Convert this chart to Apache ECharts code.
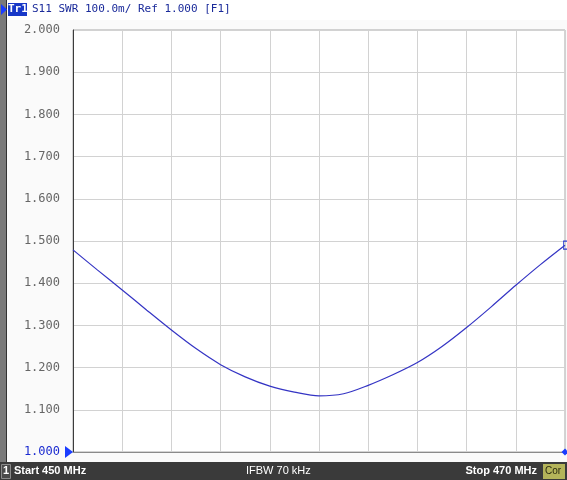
<!DOCTYPE html>
<html><head><meta charset="utf-8">
<script src="https://cdn.jsdelivr.net/npm/echarts@6/dist/echarts.min.js"></script>
<style>html,body{margin:0;padding:0;background:#fafafa}#c{width:567px;height:480px}</style>
</head><body><div id="c"></div>
<script>
const freqMHz = [450,451,452,453,454,455,456,457,458,459,460,461,462,463,464,465,466,467,468,469,470];
const swr = [1.479,1.431,1.384,1.336,1.289,1.245,1.207,1.178,1.156,1.142,1.133,1.138,1.158,1.183,1.212,1.250,1.295,1.344,1.395,1.444,1.490];
const yTicks = [1.0,1.1,1.2,1.3,1.4,1.5,1.6,1.7,1.8,1.9,2.0];
const headerText = 'S11 SWR 100.0m/ Ref 1.000 [F1]';
const startLabel = 'Start 450 MHz';
const midLabel = 'IFBW 70 kHz';
const stopLabel = 'Stop 470 MHz';

const chart = echarts.init(document.getElementById('c'));
const mono = 'DejaVu Sans Mono';
chart.setOption({
  animation: false,
  backgroundColor: '#fafafa',
  grid: {left: 73, right: 2, top: 30, bottom: 28, show: true, backgroundColor: '#ffffff', borderColor: '#a8a8a8', borderWidth: 1},
  xAxis: {type: 'value', min: 450, max: 470, interval: 2,
    axisLine: {show: true, onZero: false, lineStyle: {color: '#8a8a8a'}},
    axisTick: {show: false}, axisLabel: {show: false},
    splitLine: {show: true, lineStyle: {color: '#d2d2d2', width: 1}}},
  yAxis: {type: 'value', min: 1.0, max: 2.0, interval: 0.1,
    axisLine: {show: true, lineStyle: {color: '#3c3c3c', width: 1}},
    axisTick: {show: false},
    axisLabel: {margin: 13, fontFamily: mono, fontSize: 12,
      color: v => Math.abs(v - 1.0) < 1e-6 ? '#1a2ad0' : '#666666',
      formatter: v => yTicks.find(t => Math.abs(t - v) < 1e-6) !== undefined ? v.toFixed(3) : ''},
    splitLine: {show: true, lineStyle: {color: '#d2d2d2', width: 1}}},
  series: [{
    type: 'line', data: freqMHz.map((f, i) => [f, swr[i]]), smooth: 0.3, showSymbol: false,
    lineStyle: {color: '#3434c4', width: 1.2}, clip: false,
    markPoint: {silent: true, label: {show: false}, data: [
      {coord: [450, 1.0], symbol: 'triangle', symbolRotate: -90, symbolSize: [12, 8], symbolOffset: [-4, 0], itemStyle: {color: '#1a3cff'}},
      {coord: [470, 1.0], symbol: 'diamond', symbolSize: 7, itemStyle: {color: '#1a3cff'}},
      {coord: [470, swr[swr.length - 1]], symbol: 'rect', symbolSize: [5, 8], symbolOffset: [1, 0], itemStyle: {color: 'rgba(0,0,0,0)', borderColor: '#2a3ad0', borderWidth: 1}}
    ]}
  }],
  graphic: [
    {type: 'rect', left: 0, top: 0, shape: {width: 7, height: 462}, style: {fill: '#7a7a7a'}},
    {type: 'rect', left: 6, top: 0, shape: {width: 1, height: 462}, style: {fill: '#333'}},
    {type: 'rect', left: 7, top: 0, shape: {width: 560, height: 20}, style: {fill: '#ffffff'}},
    {type: 'polygon', shape: {points: [[1, 4], [7, 9.5], [1, 15]]}, style: {fill: '#1a3cff'}},
    {type: 'rect', left: 8, top: 3, shape: {width: 19, height: 13}, style: {fill: '#1838c8'}},
    {type: 'text', left: 8, top: 4, style: {text: 'Tr1', fill: '#ffffff', font: 'bold 11px ' + mono}},
    {type: 'text', left: 32, top: 4, style: {text: headerText, fill: '#1a2a9a', font: '11px ' + mono}},
    {type: 'rect', left: 0, top: 462, shape: {width: 567, height: 18}, style: {fill: '#3a3a3a'}},
    {type: 'rect', left: 1, top: 464, shape: {width: 9, height: 14}, style: {fill: '#4a4a4a', stroke: '#8a8a8a', lineWidth: 1}},
    {type: 'text', left: 3, top: 465, style: {text: '1', fill: '#ffffff', font: 'bold 11px "Liberation Sans", Arial'}},
    {type: 'text', left: 14, top: 465, style: {text: startLabel, fill: '#ffffff', font: 'bold 11px "Liberation Sans", Arial'}},
    {type: 'text', left: 246, top: 465, style: {text: midLabel, fill: '#ffffff', font: '11px "Liberation Sans", Arial'}},
    {type: 'text', right: 30, top: 465, style: {text: stopLabel, fill: '#ffffff', font: 'bold 11px "Liberation Sans", Arial'}},
    {type: 'rect', left: 543, top: 464, shape: {width: 22, height: 15}, style: {fill: '#b4b45a'}},
    {type: 'text', left: 545, top: 466, style: {text: 'Cor', fill: '#2a2a10', font: '10px "Liberation Sans", Arial'}}
  ]
});
</script></body></html>
